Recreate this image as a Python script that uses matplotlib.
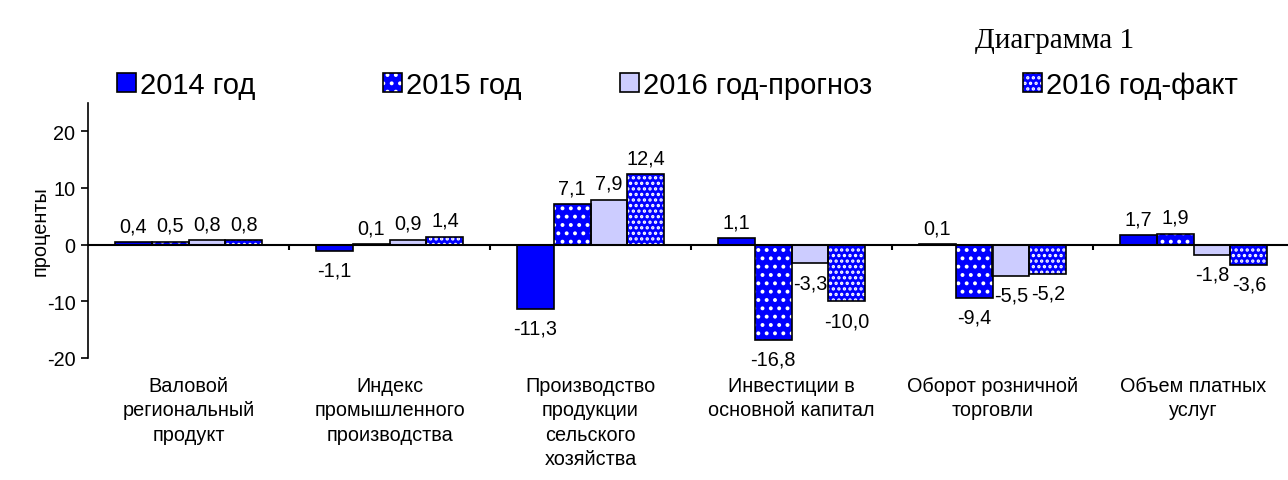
import matplotlib
matplotlib.use("Agg")
import matplotlib.pyplot as plt
import matplotlib.patches as mpatches
import numpy as np

categories = [
    "Валовой\nрегиональный\nпродукт",
    "Индекс\nпромышленного\nпроизводства",
    "Производство\nпродукции\nсельского\nхозяйства",
    "Инвестиции в\nосновной капитал",
    "Оборот розничной\nторговли",
    "Объем платных\nуслуг",
]
series_names = ["2014 год", "2015 год", "2016 год-прогноз", "2016 год-факт"]
v2014 = [0.4, -1.1, -11.3, 1.1, 0.1, 1.7]
v2015 = [0.5, 0.1, 7.1, -16.8, -9.4, 1.9]
v2016_plan = [0.8, 0.9, 7.9, -3.3, -5.5, -1.8]
v2016_fact = [0.8, 1.4, 12.4, -10.0, -5.2, -3.6]
series = [v2014, v2015, v2016_plan, v2016_fact]

# (facecolor, hatch) per series; hatches are drawn in white on the fill
styles = [("#0000FF", None), ("#0000FF", ".."), ("#CCCCFF", None), ("#0000FF", "...")]
legend_x = [117, 383, 620, 1023]  # pixel positions of legend markers

plt.rcParams["font.family"] = ["Liberation Sans", "DejaVu Sans"]
plt.rcParams["hatch.linewidth"] = 1.6
plt.rcParams["axes.unicode_minus"] = False

W, H = 1288, 481
fig = plt.figure(figsize=(W / 100, H / 100), dpi=100)
ax = fig.add_axes([88 / W, 1 - 359 / H, 1206 / W, 255 / H])

x = np.arange(len(categories))
width = 0.184
fs = 14.3

handles = []
for i, (vals, (fc, hatch)) in enumerate(zip(series, styles)):
    pos = x + (i - 1.5) * width
    if hatch:
        ax.bar(pos, vals, width, color=fc, edgecolor="white", hatch=hatch, linewidth=0, zorder=2)
    else:
        ax.bar(pos, vals, width, color=fc, linewidth=0, zorder=2)
    ax.bar(pos, vals, width, fill=False, edgecolor="black", linewidth=1.2, zorder=3)
    for xp, v in zip(pos, vals):
        lab = f"{v:.1f}".replace(".", ",")
        off = 5 if v >= 0 else -7
        ax.annotate(lab, (xp, v), xytext=(0, off), textcoords="offset points",
                    ha="center", va="bottom" if v >= 0 else "top", fontsize=fs)
    fill = mpatches.Patch(facecolor=fc, edgecolor="white" if hatch else fc, hatch=hatch, linewidth=0)
    outline = mpatches.Patch(fill=False, edgecolor="black", linewidth=1.2)
    handles.append((fill, outline))

ax.axhline(0, color="black", linewidth=1.5, zorder=4)
ax.vlines(np.arange(0.5, len(categories), 1), 0, -1.0, color="black", linewidth=1.5, zorder=4)

ax.set_xlim(-0.5, 5.5)
ax.set_ylim(-20, 25)
ax.set_yticks([-20, -10, 0, 10, 20])
ax.tick_params(axis="y", labelsize=fs, length=5, width=1.2, pad=4)
ax.set_xticks(x)
ax.set_xticklabels(categories, fontsize=fs, linespacing=1.35)
ax.tick_params(axis="x", length=0, pad=13)
for s in ["top", "right", "bottom"]:
    ax.spines[s].set_visible(False)
ax.spines["left"].set_linewidth(1.2)
ax.set_ylabel("проценты", fontsize=fs, labelpad=-2)

for h, name, px in zip(handles, series_names, legend_x):
    fig.legend([h], [name], loc="center left", bbox_to_anchor=(px / W, 1 - 86 / H),
               frameon=False, fontsize=21, handlelength=0.65, handleheight=0.65,
               handletextpad=0.15, borderpad=0, borderaxespad=0)

fig.text(975 / W, 1 - 41 / H, "Диаграмма 1", fontsize=21, va="center", ha="left",
         family=["Liberation Serif", "DejaVu Serif"])

fig.savefig("out.png", dpi=100)
